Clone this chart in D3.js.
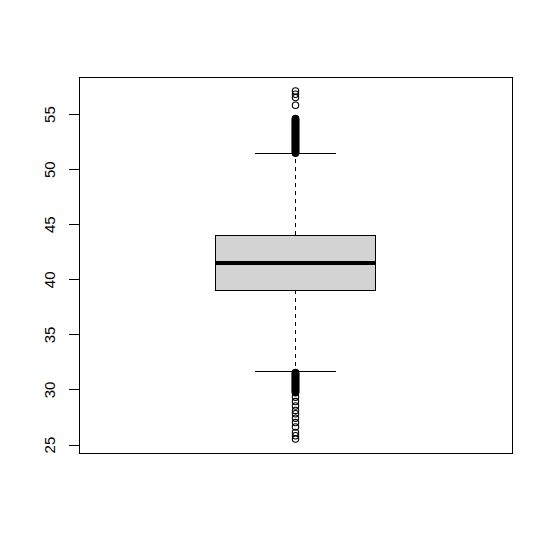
<!DOCTYPE html>
<html>
<head>
<meta charset="utf-8">
<script src="https://cdn.jsdelivr.net/npm/d3@7"></script>
<style>
  body { margin: 0; background: #fff; }
  svg text { font-family: "Liberation Sans", Arial, sans-serif; }
</style>
</head>
<body>
<div id="chart"></div>
<script>
// box statistics
var q1 = 39.0, median = 41.5, q3 = 44.0;
var whisker_lo = 31.6, whisker_hi = 51.4;

// outliers above the upper whisker (dense run, then a few stragglers)
var upper_outliers = [51.45, 51.5, 51.55, 51.6, 51.65, 51.7, 51.75, 51.8, 51.85, 51.9, 51.95,
                      52.0, 52.05, 52.1, 52.15, 52.2, 52.25, 52.3, 52.35, 52.4, 52.45,
                      52.5, 52.55, 52.6, 52.65, 52.7, 52.75, 52.8, 52.85, 52.9, 52.95,
                      53.0, 53.05, 53.1, 53.15, 53.2, 53.25, 53.3, 53.35, 53.4, 53.45,
                      53.5, 53.55, 53.6, 53.65, 53.7, 53.75, 53.8, 53.85, 53.9, 53.95,
                      54.0, 54.05, 54.1, 54.15, 54.2, 54.25, 54.3, 54.35, 54.4, 54.45,
                      54.5, 54.55, 54.6,
                      55.8, 56.5, 56.8, 57.1];
// outliers below the lower whisker
var lower_outliers = [31.55, 31.5, 31.45, 31.4, 31.35, 31.3, 31.25, 31.2, 31.15, 31.1, 31.05,
                      31.0, 30.95, 30.9, 30.85, 30.8, 30.75, 30.7, 30.65, 30.6, 30.55,
                      30.5, 30.45, 30.4, 30.35, 30.3, 30.25, 30.2, 30.15, 30.1, 30.05,
                      30.0, 29.95, 29.9, 29.85, 29.8, 29.75, 29.7,
                      29.3, 28.9, 28.5, 28.1, 27.8, 27.4, 27.0, 26.6, 26.1, 25.8, 25.5];

var y_ticks = [25, 30, 35, 40, 45, 50, 55];

// --------------------------------------------------------------------------------
const chart_width = 553, chart_height = 552;
const plot_left = 79, plot_right = 512, plot_top = 77, plot_bottom = 453;

var svg = d3.select("#chart")
  .append("svg")
  .attr("width", chart_width)
  .attr("height", chart_height);

var all_points = upper_outliers.concat(lower_outliers, [whisker_lo, whisker_hi]);
var lo = d3.min(all_points), hi = d3.max(all_points);
var pad = (hi - lo) * 0.04;   // R style 4% axis expansion

const y_scale = d3.scaleLinear()
  .domain([lo - pad, hi + pad])
  .range([plot_bottom, plot_top]);

const x_scale = d3.scaleLinear()
  .domain([0.46, 1.54])
  .range([plot_left, plot_right]);

var cx = x_scale(1);

// whiskers (dashed)
svg.selectAll(".whisker")
  .data([[q3, whisker_hi], [q1, whisker_lo]])
  .enter()
  .append("line")
  .attr("x1", cx).attr("x2", cx)
  .attr("y1", d => y_scale(d[0]))
  .attr("y2", d => y_scale(d[1]))
  .attr("stroke", "#000")
  .attr("stroke-dasharray", "4,4")
  .attr("shape-rendering", "crispEdges");

// staples
svg.selectAll(".staple")
  .data([whisker_lo, whisker_hi])
  .enter()
  .append("line")
  .attr("x1", x_scale(0.9)).attr("x2", x_scale(1.1))
  .attr("y1", d => y_scale(d)).attr("y2", d => y_scale(d))
  .attr("stroke", "#000")
  .attr("shape-rendering", "crispEdges");

// box
svg.append("rect")
  .attr("x", x_scale(0.8))
  .attr("y", y_scale(q3))
  .attr("width", x_scale(1.2) - x_scale(0.8))
  .attr("height", y_scale(q1) - y_scale(q3))
  .attr("fill", "#d3d3d3")
  .attr("stroke", "#000")
  .attr("shape-rendering", "crispEdges");

// median
svg.append("line")
  .attr("x1", x_scale(0.8)).attr("x2", x_scale(1.2))
  .attr("y1", y_scale(median)).attr("y2", y_scale(median))
  .attr("stroke", "#000")
  .attr("stroke-width", 3.5)
  .attr("shape-rendering", "crispEdges");

// outliers
svg.selectAll(".outlier")
  .data(upper_outliers.concat(lower_outliers))
  .enter()
  .append("circle")
  .attr("cx", cx)
  .attr("cy", d => y_scale(d))
  .attr("r", 3.2)
  .attr("fill", "none")
  .attr("stroke", "#000")
  .attr("stroke-width", 1.1);

// frame
svg.append("rect")
  .attr("x", plot_left).attr("y", plot_top)
  .attr("width", plot_right - plot_left).attr("height", plot_bottom - plot_top)
  .attr("fill", "none")
  .attr("stroke", "#000")
  .attr("shape-rendering", "crispEdges");

// y axis
var y_axis = d3.axisLeft(y_scale)
  .tickValues(y_ticks)
  .tickSize(10)
  .tickPadding(0)
  .tickFormat(d3.format("d"));

var g = svg.append("g")
  .attr("transform", "translate(" + plot_left + ",0)")
  .call(y_axis);

g.select(".domain").remove();
g.selectAll("text").remove();
g.selectAll("line").attr("shape-rendering", "crispEdges");

g.selectAll(".tick")
  .append("text")
  .attr("transform", "translate(-24,0) rotate(-90)")
  .attr("text-anchor", "middle")
  .attr("fill", "#000")
  .style("font-size", "15px")
  .style("font-family", "'Liberation Sans', Arial, sans-serif")
  .text(d => d);
</script>
</body>
</html>
